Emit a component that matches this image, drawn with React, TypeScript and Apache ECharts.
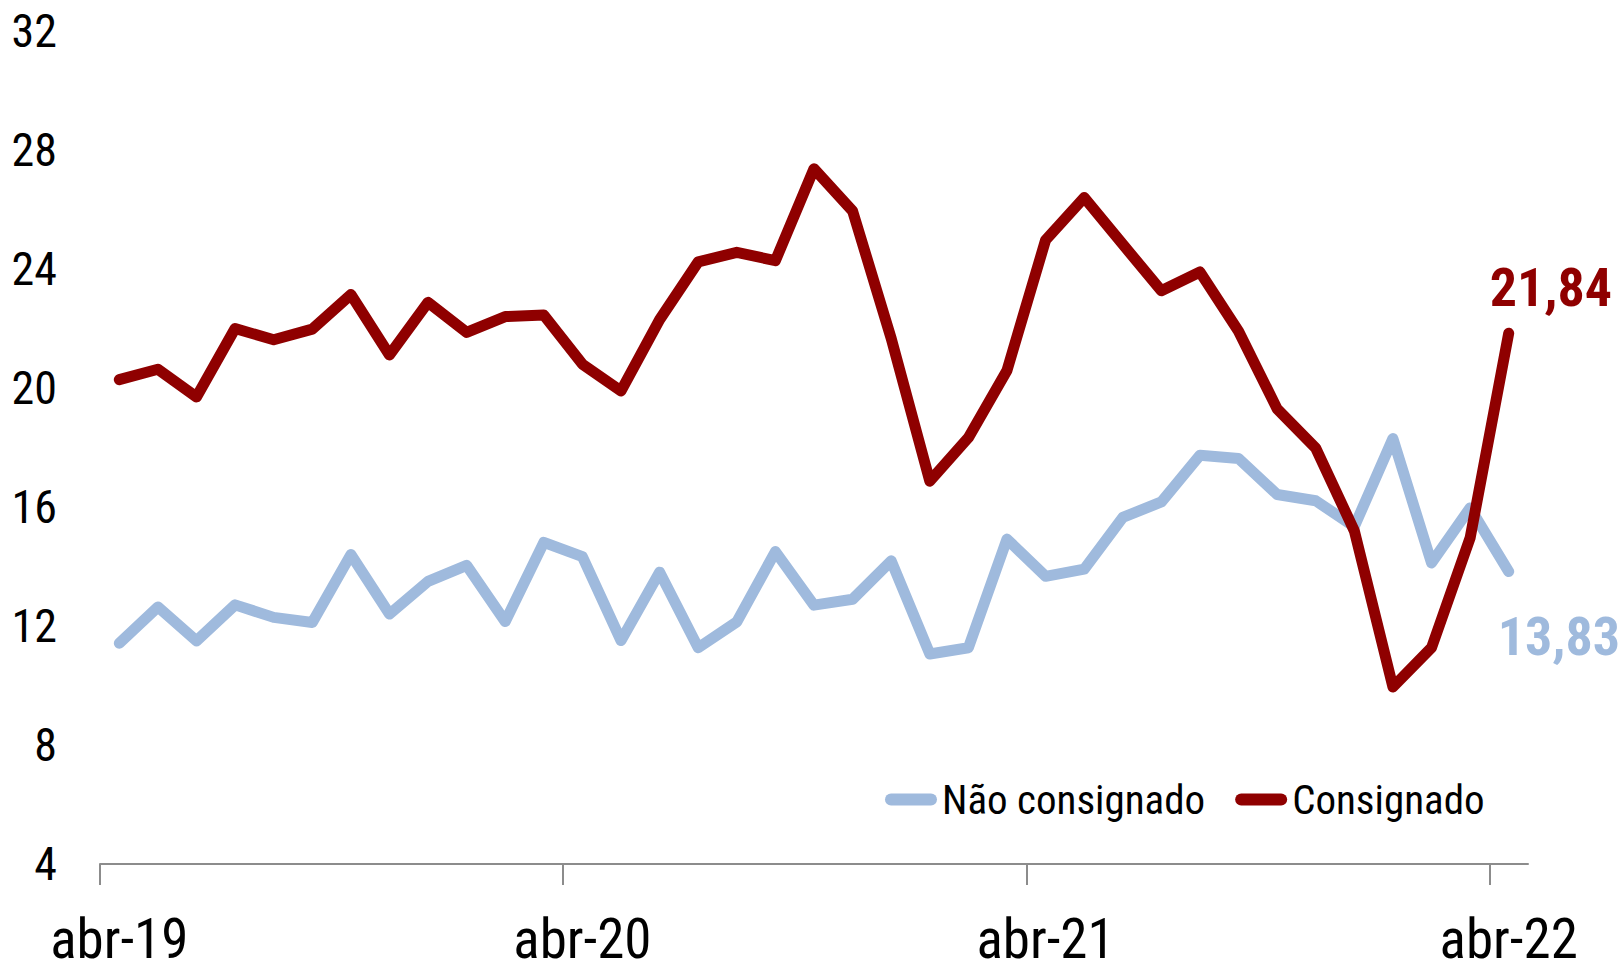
import React, { useEffect, useRef } from "react";
import * as echarts from "echarts";

const categories = [
  "abr-19", "mai-19", "jun-19", "jul-19", "ago-19", "set-19", "out-19", "nov-19", "dez-19", "jan-20", "fev-20", "mar-20",
  "abr-20", "mai-20", "jun-20", "jul-20", "ago-20", "set-20", "out-20", "nov-20", "dez-20", "jan-21", "fev-21", "mar-21",
  "abr-21", "mai-21", "jun-21", "jul-21", "ago-21", "set-21", "out-21", "nov-21", "dez-21", "jan-22", "fev-22", "mar-22",
  "abr-22",
];

const naoConsignado = [
  11.42, 12.64, 11.5, 12.71, 12.29, 12.12, 14.4, 12.4, 13.5, 14.04, 12.15, 14.81,
  14.33, 11.51, 13.81, 11.27, 12.14, 14.5, 12.7, 12.9, 14.19, 11.06, 11.27, 14.92,
  13.67, 13.91, 15.65, 16.17, 17.74, 17.63, 16.42, 16.21, 15.34, 18.3, 14.12, 15.97,
  13.83,
];

const consignado = [
  20.28, 20.63, 19.7, 22.0, 21.62, 21.98, 23.14, 21.11, 22.88, 21.87, 22.4, 22.45,
  20.8, 19.9, 22.3, 24.24, 24.56, 24.28, 27.37, 25.95, 21.67, 16.87, 18.33, 20.59,
  24.97, 26.4, 24.83, 23.27, 23.9, 21.91, 19.3, 17.98, 15.2, 9.95, 11.27, 14.96,
  21.84,
];

const seriesNames = ["Não consignado", "Consignado"];
const yTicks = { min: 4, max: 32, interval: 4 };
const monthsPerYear = 12;

const FONT = "'Liberation Sans Narrow', 'Roboto Condensed', 'DejaVu Sans Condensed', 'Arial Narrow', Carlito, Roboto, sans-serif";
const BLUE = "#9fbadd";
const RED = "#8f0000";
const AXIS = "#8c8c8c";

const fmt = (v: number) => v.toFixed(2).replace(".", ",");

export default function App() {
  const ref = useRef<HTMLDivElement>(null);

  useEffect(() => {
    document.body.style.margin = "0";
    if (!ref.current) return;
    const chart = echarts.init(ref.current, undefined, { renderer: "svg" });
    const capsule = "path://M6,0 L46,0 A6,6 0 0 1 46,12 L6,12 A6,6 0 0 1 6,0 Z";
    // tick axis: covers only the categories up to the last year boundary
    const tickCats = categories.slice(0, categories.length - 1);
    const plotW = 1623 - 100 - 95;
    const slot = plotW / categories.length;
    chart.setOption({
      animation: false,
      backgroundColor: "#ffffff",
      textStyle: { fontFamily: FONT },
      grid: [
        { left: 100, right: 95, top: 31, bottom: 106, containLabel: false, outerBoundsMode: "none" },
        { left: 100, right: 95 + slot, top: 31, bottom: 106, containLabel: false, outerBoundsMode: "none" },
      ],
      legend: {
        left: 885,
        top: 779,
        padding: 0,
        itemWidth: 52,
        itemHeight: 12,
        itemGap: 30,
        icon: capsule,
        textStyle: { fontFamily: FONT, fontSize: 41, color: "#000" },
        data: seriesNames,
      },
      xAxis: [
        {
          type: "category",
          gridIndex: 0,
          data: categories,
          boundaryGap: true,
          axisLine: { show: true, lineStyle: { color: AXIS, width: 2 } },
          axisTick: { show: false },
          axisLabel: {
            interval: monthsPerYear - 1,
            margin: 53,
            fontFamily: FONT,
            fontSize: 55,
            lineHeight: 44,
            color: "#000",
          },
          splitLine: { show: false },
        },
        {
          type: "category",
          gridIndex: 1,
          data: tickCats,
          boundaryGap: true,
          axisLine: { show: false },
          axisTick: { show: true, interval: monthsPerYear - 1, length: 21, lineStyle: { color: AXIS, width: 2 } },
          axisLabel: { show: false },
          splitLine: { show: false },
        },
      ],
      yAxis: [
        {
          type: "value",
          gridIndex: 0,
          min: yTicks.min,
          max: yTicks.max,
          interval: yTicks.interval,
          axisLine: { show: false },
          axisTick: { show: false },
          splitLine: { show: false },
          axisLabel: { margin: 43, fontFamily: FONT, fontSize: 46, color: "#000" },
        },
        {
          type: "value",
          gridIndex: 1,
          min: yTicks.min,
          max: yTicks.max,
          interval: yTicks.interval,
          show: false,
          splitLine: { show: false },
        },
      ],
      series: [
        {
          name: seriesNames[0],
          type: "line",
          data: naoConsignado,
          symbol: "none",
          color: BLUE,
          lineStyle: { color: BLUE, width: 11, cap: "round", join: "round" },
          endLabel: {
            show: true,
            formatter: (p: any) => fmt(p.value),
            distance: 0,
            offset: [-11, 65],
            fontFamily: FONT,
            fontSize: 54,
            fontWeight: "bold",
            color: BLUE,
          },
        },
        {
          name: seriesNames[1],
          type: "line",
          data: consignado,
          symbol: "none",
          color: RED,
          lineStyle: { color: RED, width: 11, cap: "round", join: "round" },
          endLabel: {
            show: true,
            formatter: (p: any) => fmt(p.value),
            distance: 0,
            offset: [-19, -46],
            fontFamily: FONT,
            fontSize: 54,
            fontWeight: "bold",
            color: RED,
          },
        },
      ],
    });
    return () => chart.dispose();
  }, []);

  return <div ref={ref} style={{ width: 1623, height: 970 }} />;
}
